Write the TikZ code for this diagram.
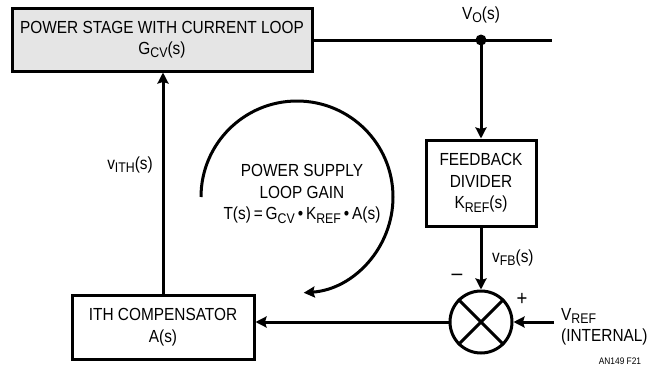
\documentclass[tikz,border=0pt]{standalone}
\usepackage{fontspec}
\setmainfont{Liberation Sans}[FakeStretch=0.88]
\usetikzlibrary{arrows.meta}
\newcommand\sbs[1]{\raisebox{-0.35ex}{\fontsize{14}{15}\selectfont #1}}
\begin{document}
\begin{tikzpicture}[x=1pt,y=-1pt,
  txt/.style={font=\fontsize{17.5}{21.5}\selectfont, align=center, inner sep=0pt},
  blk/.style={txt, draw, line width=3pt},
  ln/.style={line width=3pt},
  arr/.style={ln, -{Stealth[length=11pt,width=11pt,inset=1.5pt]}}]
\useasboundingbox (0,0) rectangle (664,375);
% blocks
\node[blk, fill=black!10, minimum width=300pt, minimum height=63pt] (ps) at (162,39.5)
  {POWER STAGE WITH CURRENT LOOP\\G\sbs{CV}(s)};
\node[blk, minimum width=110pt, minimum height=86pt] (fb) at (481,183)
  {FEEDBACK\\DIVIDER\\K\sbs{REF}(s)};
\node[blk, minimum width=182pt, minimum height=64pt] (ith) at (163,327)
  {ITH COMPENSATOR\\A(s)};
\node[draw, circle, line width=3pt, minimum size=62pt, inner sep=0pt] (sum) at (481,322) {};
\draw[ln] (sum.north west) -- (sum.south east);
\draw[ln] (sum.north east) -- (sum.south west);
% coordinates
\coordinate (vo) at (481,40);
\coordinate (oend) at (552,40);
\coordinate (vref) at (554,322);
% connectors
\draw[ln] (ps.east |- vo) -- (oend);
\fill (vo) circle (5.5pt);
\draw[arr] (vo) -- (fb.north);
\draw[arr] (fb.south) -- (sum.north);
\draw[arr] (vref) -- (sum.east);
\draw[arr] (sum.west) -- (sum.west -| ith.east);
\draw[arr] (ith.north) -- (ith.north |- ps.south);
% loop arc
\coordinate (arcstart) at (201,197);
\draw[arr] (arcstart) arc[start angle=180, end angle=446, radius=96];
% labels
\node[txt] (lvo) at (481,15) {V\sbs{O}(s)};
\node[txt, anchor=east] (lith) at (153,165) {v\sbs{ITH}(s)};
\node[txt, anchor=west] (lfb) at (492,258) {v\sbs{FB}(s)};
\node[txt, font=\fontsize{22}{22}\selectfont] (lminus) at (457,277) {–};
\node[txt, font=\fontsize{21}{22}\selectfont] (lplus) at (522,299) {+};
\node[txt, anchor=west, align=left] (lref) at (561,327) {V\sbs{REF}\\(INTERNAL)};
\node[txt] (lloop) at (302,194) {POWER SUPPLY\\LOOP GAIN\\T(s)\,=\,G\sbs{CV}\,•\,K\sbs{REF}\,•\,A(s)};
\node[txt, font=\fontsize{9.5}{10}\selectfont] (lfig) at (620,361) {AN149 F21};
\end{tikzpicture}
\end{document}
